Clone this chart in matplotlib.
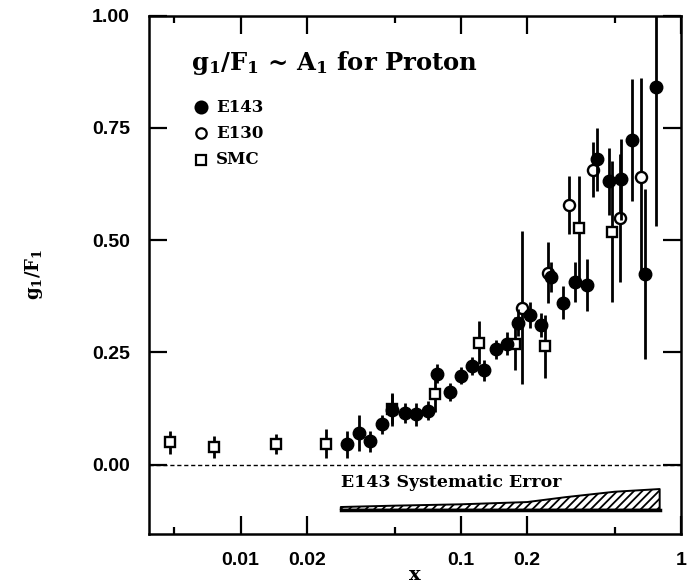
import matplotlib
matplotlib.use("Agg")
import matplotlib.pyplot as plt
import matplotlib.ticker as mticker
import numpy as np

plt.rcParams['mathtext.fontset'] = 'dejavuserif'
plt.rcParams['hatch.linewidth'] = 1.3

# E143 (filled circles)
e143_x = [0.0305, 0.0346, 0.0388, 0.0437, 0.0488, 0.0560, 0.0628, 0.0711, 0.0783,
          0.0892, 0.100, 0.112, 0.1276, 0.144, 0.162, 0.181, 0.206, 0.231, 0.258,
          0.292, 0.329, 0.374, 0.414, 0.472, 0.536, 0.598, 0.687, 0.770]
e143_y = [0.046, 0.071, 0.052, 0.090, 0.122, 0.115, 0.112, 0.120, 0.203,
          0.162, 0.198, 0.220, 0.210, 0.257, 0.270, 0.316, 0.334, 0.311, 0.418,
          0.361, 0.407, 0.401, 0.680, 0.631, 0.636, 0.723, 0.425, 0.842]
e143_err = [0.030, 0.040, 0.023, 0.021, 0.035, 0.023, 0.025, 0.021, 0.021,
            0.021, 0.019, 0.021, 0.023, 0.021, 0.025, 0.030, 0.029, 0.027, 0.033,
            0.037, 0.044, 0.058, 0.070, 0.074, 0.090, 0.135, 0.190, 0.310]

# E130 (open circles)
e130_x = [0.190, 0.249, 0.311, 0.400, 0.531, 0.656]
e130_y = [0.350, 0.428, 0.579, 0.657, 0.550, 0.641]
e130_err = [0.170, 0.068, 0.065, 0.061, 0.143, 0.220]

# SMC (open squares)
smc_x = [0.00479, 0.00759, 0.01449, 0.0244, 0.0488, 0.0766, 0.1213, 0.1754,
         0.2415, 0.345, 0.488]
smc_y = [0.050, 0.039, 0.046, 0.047, 0.125, 0.158, 0.272, 0.270,
         0.264, 0.528, 0.519]
smc_err = [0.026, 0.024, 0.023, 0.033, 0.035, 0.040, 0.048, 0.058,
           0.070, 0.116, 0.157]

# E143 systematic error band
sys_x = [0.0285, 0.05, 0.1, 0.2, 0.3, 0.5, 0.80]
sys_err = [0.006, 0.009, 0.012, 0.017, 0.028, 0.040, 0.046]
sys_base = -0.100

xticks = [0.01, 0.02, 0.1, 0.2, 1]
xticklabels = ['0.01', '0.02', '0.1', '0.2', '1']
yticks = [0.0, 0.25, 0.5, 0.75, 1.0]

fig = plt.figure(figsize=(6.89, 5.83), dpi=100)
ax = fig.add_axes([0.2168, 0.0849, 0.7716, 0.8883])

ax.set_xscale('log')
ax.set_xlim(0.00385, 1.0)
ax.set_ylim(-0.153, 1.0)

ekw = dict(ls='none', ecolor='black', elinewidth=2.0, capsize=0)
ax.errorbar(smc_x, smc_y, yerr=smc_err, marker='s', ms=7.5, mfc='white',
            mec='black', mew=1.7, zorder=3, **ekw)
ax.errorbar(e130_x, e130_y, yerr=e130_err, marker='o', ms=8, mfc='white',
            mec='black', mew=1.7, zorder=3, **ekw)
ax.errorbar(e143_x, e143_y, yerr=e143_err, marker='o', ms=9, mfc='black',
            mec='black', zorder=4, **ekw)

ax.axhline(0, color='black', lw=1.0, ls=(0, (3, 2)))

sx = np.array(sys_x)
ax.fill_between(sx, sys_base, sys_base + np.array(sys_err), facecolor='white',
                edgecolor='black', hatch='////', lw=1.4)
ax.plot([sx[0], sx[-1]], [sys_base, sys_base], color='black', lw=2.5)

serif_bold = dict(family='DejaVu Serif', weight='bold')
ax.text(0.0285, -0.040, 'E143 Systematic Error', fontsize=12.5, va='center',
        ha='left', **serif_bold)

ax.text(0.078, 0.908, r'$\mathbf{g_1/F_1}$ ~ $\mathbf{A_1}$ for Proton',
        transform=ax.transAxes, fontsize=17.5, va='center', ha='left', **serif_bold)

# legend drawn by hand
leg_y = [0.823, 0.773, 0.722]
leg_lab = ['E143', 'E130', 'SMC']
leg_mk = [('o', 'black', 8.5), ('o', 'white', 7.5), ('s', 'white', 7.5)]
for yy, lab, (m, fc, s) in zip(leg_y, leg_lab, leg_mk):
    ax.plot([0.097], [yy], marker=m, mfc=fc, mec='black', ms=s, mew=1.6,
            transform=ax.transAxes, ls='none')
    ax.text(0.125, yy, lab, transform=ax.transAxes, fontsize=12, va='center',
            ha='left', **serif_bold)

ax.set_xticks(xticks)
ax.set_xticklabels(xticklabels)
ax.xaxis.set_minor_locator(mticker.FixedLocator([0.005, 0.05, 0.5]))
ax.xaxis.set_minor_formatter(mticker.NullFormatter())
ax.set_yticks(yticks)
ax.set_yticklabels(['0.00', '0.25', '0.50', '0.75', '1.00'])
ax.yaxis.set_minor_locator(mticker.NullLocator())

ax.tick_params(which='both', direction='in', top=True, right=True, width=1.6)
ax.tick_params(axis='x', which='major', length=13, pad=13)
ax.tick_params(axis='x', which='minor', length=5)
ax.tick_params(axis='y', which='major', length=13, pad=14)
for lab in ax.get_xticklabels() + ax.get_yticklabels():
    lab.set_family('Liberation Sans')
    lab.set_weight('bold')
    lab.set_fontsize(14)

for sp in ax.spines.values():
    sp.set_linewidth(1.8)

ax.set_xlabel('x', fontsize=14, labelpad=-2, **serif_bold)
ax.set_ylabel(r'$\mathbf{g_1/F_1}$', fontsize=13, labelpad=34)

fig.savefig('out.png', dpi=100)
